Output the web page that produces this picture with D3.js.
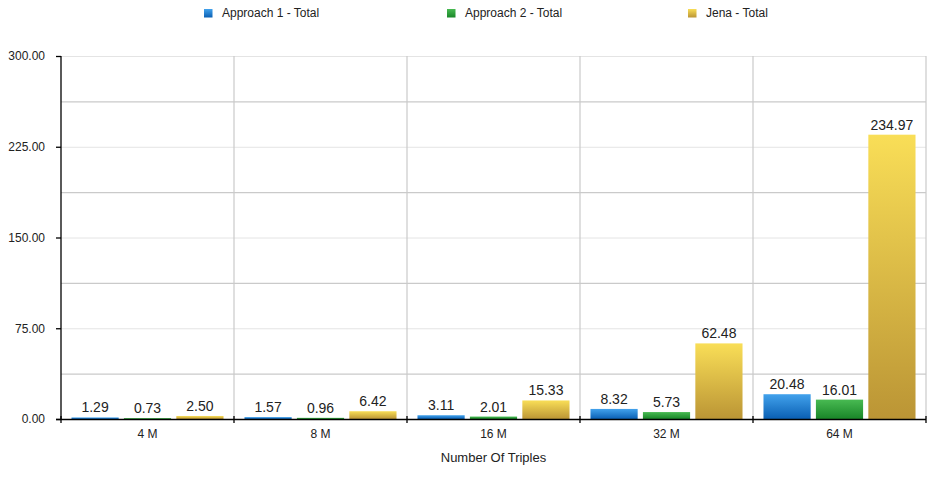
<!DOCTYPE html>
<html><head><meta charset="utf-8">
<script src="https://cdn.jsdelivr.net/npm/d3@7/dist/d3.min.js"></script>
<style>body{margin:0;background:#fff}svg{display:block;font-family:"Liberation Sans",Arial,sans-serif}</style>
</head><body><svg id="c" width="932" height="490"></svg>
<script>
const categories = ["4 M","8 M","16 M","32 M","64 M"];
const seriesNames = ["Approach 1 - Total","Approach 2 - Total","Jena - Total"];
const approach1 = [1.29,1.57,3.11,8.32,20.48];
const approach2 = [0.73,0.96,2.01,5.73,16.01];
const jena = [2.50,6.42,15.33,62.48,234.97];
const yTicks = [0,75,150,225,300];
const yMinor = [37.5,112.5,187.5,262.5];
const xTitle = "Number Of Triples";

const series = [approach1, approach2, jena];
const colors = [["#42a2ec","#0a5fb3"],["#48ba52","#198628"],["#f9de57","#bb9535"]];

const svg = d3.select("#c");
const M = {l:61, r:926, t:56, b:419};
const x = d3.scaleBand().domain(categories).range([M.l, M.r]).paddingInner(0).paddingOuter(0);
const xs = d3.scaleBand().domain(d3.range(series.length)).range([0, x.bandwidth()]).paddingInner(0.1).paddingOuter(0.2);
const y = d3.scaleLinear().domain([0,300]).range([M.b, M.t]);

const defs = svg.append("defs");
colors.forEach((c,i)=>{
  const g = defs.append("linearGradient").attr("id","g"+i).attr("x1",0).attr("y1",0).attr("x2",0).attr("y2",1);
  g.append("stop").attr("offset","0%").attr("stop-color",c[0]);
  g.append("stop").attr("offset","100%").attr("stop-color",c[1]);
});

// grid
svg.append("g").selectAll("line").data(yTicks.slice(1)).join("line")
  .attr("x1",M.l).attr("x2",M.r).attr("y1",d=>y(d)+0.5).attr("y2",d=>y(d)+0.5)
  .attr("stroke","#e4e4e4").attr("stroke-width",1);
svg.append("g").selectAll("line").data(yMinor).join("line")
  .attr("x1",M.l).attr("x2",M.r).attr("y1",d=>y(d)+0.5).attr("y2",d=>y(d)+0.5)
  .attr("stroke","#cacaca").attr("stroke-width",1.2);
const bounds = categories.slice(1).map(c=>x(c)).concat([M.r]);
svg.append("g").selectAll("line").data(bounds).join("line")
  .attr("x1",d=>d).attr("x2",d=>d).attr("y1",M.t).attr("y2",M.b)
  .attr("stroke","#cacaca").attr("stroke-width",1.2);

// bars
series.forEach((s,i)=>{
  const g = svg.append("g");
  g.selectAll("rect").data(s).join("rect")
    .attr("x",(d,j)=>x(categories[j])+xs(i))
    .attr("width",xs.bandwidth())
    .attr("y",d=>y(d)).attr("height",d=>y(0)-y(d))
    .attr("fill","url(#g"+i+")");
  g.selectAll("text").data(s).join("text")
    .attr("x",(d,j)=>x(categories[j])+xs(i)+xs.bandwidth()/2)
    .attr("y",d=>y(d)-5)
    .attr("text-anchor","middle").attr("font-size",14).attr("fill","#222")
    .text(d=>d.toFixed(2));
});

// y axis
const ya = svg.append("g").attr("transform",`translate(${M.l},0)`)
  .call(d3.axisLeft(y).tickValues(yTicks).tickFormat(d3.format(".2f")).tickSize(5).tickPadding(11));
ya.select(".domain").attr("stroke","#000").attr("stroke-width",1.3).attr("d",`M0,${M.t}V${M.b}`);
ya.selectAll(".tick line").attr("stroke","#000").attr("stroke-width",1.3);
ya.selectAll(".tick text").attr("font-size",12).attr("fill","#222").attr("font-family","Liberation Sans, Arial, sans-serif");

// x axis
svg.append("line").attr("x1",M.l-5).attr("x2",M.r).attr("y1",M.b+0.5).attr("y2",M.b+0.5).attr("stroke","#000").attr("stroke-width",1.3);
svg.append("g").selectAll("line").data([M.l].concat(bounds)).join("line")
  .attr("x1",d=>d).attr("x2",d=>d).attr("y1",M.b-3).attr("y2",M.b+4)
  .attr("stroke","#000").attr("stroke-width",1.3);
svg.append("g").selectAll("text").data(categories).join("text")
  .attr("x",d=>x(d)+x.bandwidth()/2).attr("y",M.b+19)
  .attr("text-anchor","middle").attr("font-size",12).attr("fill","#222").text(d=>d);
svg.append("text").attr("x",(M.l+M.r)/2).attr("y",462).attr("text-anchor","middle")
  .attr("font-size",13).attr("fill","#222").text(xTitle);

// legend
const legendX = [204,447,688];
const lg = svg.append("g");
seriesNames.forEach((n,i)=>{
  lg.append("rect").attr("x",legendX[i]).attr("y",9).attr("width",8.5).attr("height",8.5).attr("fill","url(#g"+i+")");
  lg.append("text").attr("x",legendX[i]+18).attr("y",17).attr("font-size",12).attr("fill","#222").text(n);
});
</script></body></html>
